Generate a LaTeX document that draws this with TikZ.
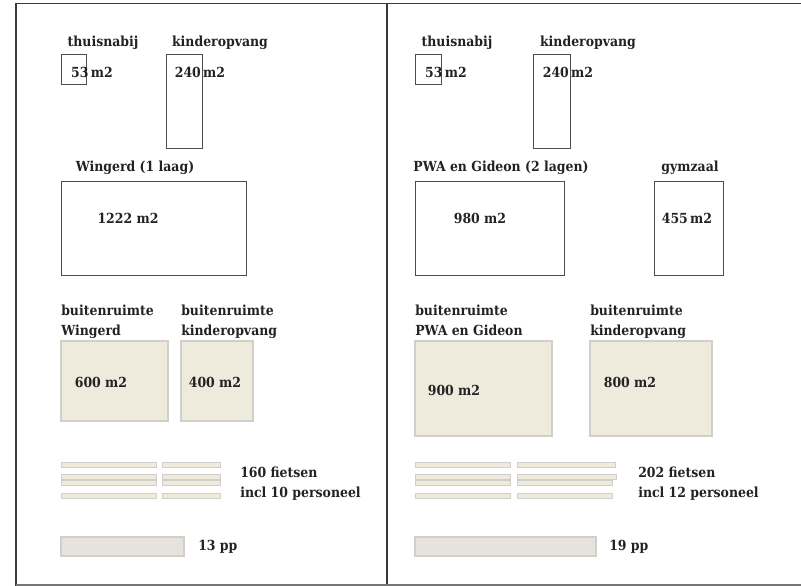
\documentclass[tikz,border=0pt]{standalone}
\usepackage{fontspec}
\setmainfont{DejaVu Serif Condensed}
\usepackage{xcolor}
\definecolor{yardfill}{HTML}{EFEBDC}
\definecolor{yardline}{HTML}{D0CFCB}
\definecolor{parkfill}{HTML}{E6E2DE}
\definecolor{frameline}{HTML}{3A3A3A}
\definecolor{textcol}{HTML}{222222}

\tikzset{
    room/.style={draw=black!70, line width=0.7pt},
    yard/.style={draw=yardline, fill=yardfill, line width=0.9pt},
    park/.style={draw=yardline, fill=parkfill, line width=0.9pt},
    lbl/.style={inner sep=0pt, text=textcol, font=\bfseries\fontsize{10.4}{15}\selectfont},
    lbl2/.style={lbl, align=left, anchor=west}
}

\begin{document}
\begin{tikzpicture}[x=0.75pt, y=-0.75pt]
    \useasboundingbox (0,0) rectangle (801,586);
    % frame
    \draw[frameline, line width=1.1pt] (16,586) -- (16,3.5) -- (801,3.5);
    \draw[frameline, line width=1.1pt] (387,3.5) -- (387,586);
    \draw[frameline!70, line width=1.1pt] (16,585) -- (801,585);

    % ---- left: Wingerd ----
    \draw[room] (61,54) rectangle (86,84);
    \draw[room] (166,54) rectangle (202,148);
    \draw[room] (61,181) rectangle (246,275);
    \node[lbl] (lthuis) at (103,43) {thuisnabij};
    \node[lbl] (lkind) at (220,43) {kinderopvang};
    \node[lbl] (lthuism) at (92,72) {53\,m2};
    \node[lbl] (lkindm) at (200,72) {240\,m2};
    \node[lbl] (lwing) at (135,168) {Wingerd (1 laag)};
    \node[lbl] (lwingm) at (128,218) {1222 m2};

    \draw[yard] (61,341) rectangle (168,421);
    \draw[yard] (181,341) rectangle (253,421);
    \node[lbl2] (lbuit1) at (61,322) {buitenruimte\\Wingerd};
    \node[lbl2] (lbuit2) at (181,322) {buitenruimte\\kinderopvang};
    \node[lbl] (lbuit1m) at (101,382) {600 m2};
    \node[lbl] (lbuit2m) at (215,382) {400 m2};

    \foreach \y in {462, 474, 480, 493} {
        \draw[yard, line width=0.7pt] (61,\y) rectangle (156,\y+5.5);
        \draw[yard, line width=0.7pt] (162,\y) rectangle (220,\y+5.5);
    }
    \node[lbl2] (lfiets) at (240,484) {160 fietsen\\incl 10 personeel};

    \draw[park] (61,537) rectangle (184,556);
    \node[lbl, anchor=west] (lpp) at (198,547) {13 pp};

    % ---- right: PWA en Gideon ----
    \draw[room] (415,54) rectangle (441,84);
    \draw[room] (533,54) rectangle (570,148);
    \draw[room] (415,181) rectangle (564,275);
    \draw[room] (654,181) rectangle (723,275);
    \node[lbl] (rthuis) at (457,43) {thuisnabij};
    \node[lbl] (rkind) at (588,43) {kinderopvang};
    \node[lbl] (rthuism) at (446,72) {53\,m2};
    \node[lbl] (rkindm) at (568,72) {240\,m2};
    \node[lbl] (rpwa) at (501,168) {PWA en Gideon (2 lagen)};
    \node[lbl] (rgym) at (690,168) {gymzaal};
    \node[lbl] (rpwam) at (480,218) {980 m2};
    \node[lbl] (rgymm) at (687,218) {455\,m2};

    \draw[yard] (415,341) rectangle (552,436);
    \draw[yard] (590,341) rectangle (712,436);
    \node[lbl2] (rbuit1) at (415,322) {buitenruimte\\PWA en Gideon\vphantom{g}};
    \node[lbl2] (rbuit2) at (590,322) {buitenruimte\\kinderopvang};
    \node[lbl] (rbuit1m) at (454,390) {900 m2};
    \node[lbl] (rbuit2m) at (630,382) {800 m2};

    \foreach \y/\w in {462/615, 474/616, 480/612, 493/612} {
        \draw[yard, line width=0.7pt] (415,\y) rectangle (510,\y+5.5);
        \draw[yard, line width=0.7pt] (517,\y) rectangle (\w,\y+5.5);
    }
    \node[lbl2] (rfiets) at (638,484) {202 fietsen\\incl 12 personeel};

    \draw[park] (415,537) rectangle (596,556);
    \node[lbl, anchor=west] (rpp) at (609,547) {19 pp};
\end{tikzpicture}
\end{document}
